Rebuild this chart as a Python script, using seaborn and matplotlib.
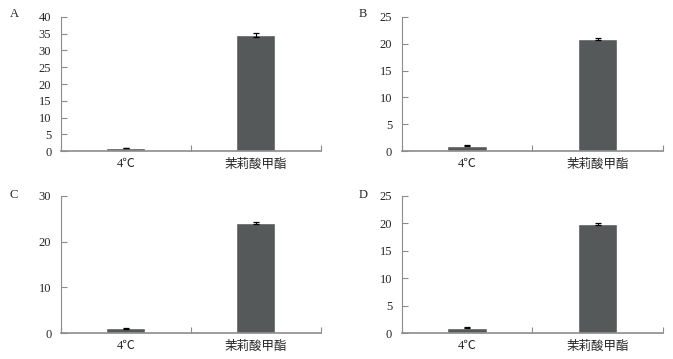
import numpy as np
import pandas as pd
import matplotlib
matplotlib.use("Agg")
import matplotlib.pyplot as plt
import seaborn as sns

# ==========================================
# DATA
# ==========================================

categories = ["4℃", "茉莉酸甲酯"]
panel_labels = ["A", "B", "C", "D"]

values_a = [1.0, 34.6]
errors_a = [0.08, 0.6]
values_b = [1.0, 20.9]
errors_b = [0.05, 0.15]
values_c = [1.0, 24.1]
errors_c = [0.05, 0.2]
values_d = [1.0, 19.9]
errors_d = [0.05, 0.15]

ymax = [40, 25, 30, 25]
ystep = [5, 5, 10, 5]

panels = [(values_a, errors_a), (values_b, errors_b),
          (values_c, errors_c), (values_d, errors_d)]

# ==========================================
# STYLE
# ==========================================

sns.set_style("ticks")
plt.rcParams["font.family"] = ["Liberation Serif", "Noto Sans CJK SC"]
plt.rcParams["font.size"] = 9

bar_color = "#555959"
axis_color = "#8c8c8c"

fig = plt.figure(figsize=(6.73, 3.59), dpi=100)

positions = [
    [0.0906, 0.579, 0.386, 0.374],
    [0.597, 0.579, 0.388, 0.374],
    [0.0906, 0.0724, 0.386, 0.382],
    [0.597, 0.0724, 0.388, 0.382],
]
letter_pos = [(0.014, 0.978), (0.533, 0.978), (0.014, 0.473), (0.533, 0.473)]

for i, (vals, errs) in enumerate(panels):
    ax = fig.add_axes(positions[i])
    df = pd.DataFrame({"group": categories, "value": vals})
    sns.barplot(data=df, x="group", y="value", color=bar_color,
                width=0.3, saturation=1, ax=ax, errorbar=None)
    ax.errorbar(np.arange(len(categories)), vals, yerr=errs, fmt="none",
                ecolor="black", elinewidth=0.8, capsize=2.5, capthick=0.9)

    ax.set_xlim(-0.5, 1.5)
    ax.set_ylim(0, ymax[i])
    ax.set_yticks(np.arange(0, ymax[i] + 0.1, ystep[i]))
    ax.set_xlabel("")
    ax.set_ylabel("")

    # category boundary ticks pointing up
    ax.set_xticks([-0.5, 0.5, 1.5], minor=True)
    ax.tick_params(axis="x", which="major", length=0, pad=5, labelsize=9)
    ax.tick_params(axis="x", which="minor", direction="in", length=4,
                   color=axis_color, width=0.8)
    ax.tick_params(axis="y", direction="in", length=4, color=axis_color,
                   width=0.8, labelsize=9, pad=7)
    for lbl in ax.get_xticklabels():
        if lbl.get_text() != "4℃":
            lbl.set_family(["Noto Sans CJK SC", "DejaVu Sans"])

    sns.despine(ax=ax)
    ax.spines["left"].set_color(axis_color)
    ax.spines["left"].set_linewidth(0.8)
    ax.spines["bottom"].set_color(axis_color)
    ax.spines["bottom"].set_linewidth(1.2)

    fig.text(letter_pos[i][0], letter_pos[i][1], panel_labels[i],
             fontsize=9, va="top", ha="left")

fig.savefig("out.png", dpi=100)
